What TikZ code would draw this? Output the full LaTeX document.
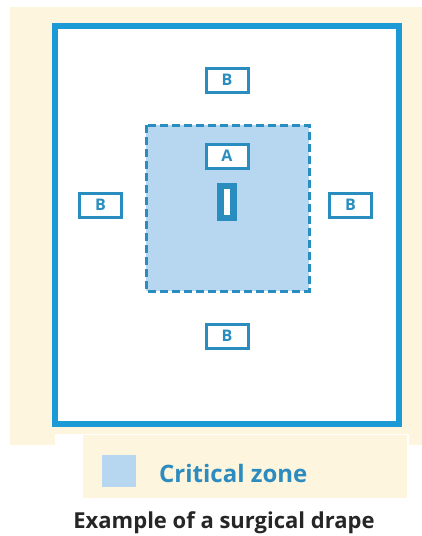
\documentclass[tikz,border=0pt]{standalone}
\usepackage{fontspec}
\setmainfont{Open Sans}
\definecolor{cream}{HTML}{FDF5DD}
\definecolor{frameblue}{HTML}{1C9AD6}
\definecolor{boxblue}{HTML}{2A8DC0}
\definecolor{zonefill}{HTML}{B7D7F0}
\definecolor{zonetext}{HTML}{2C8BBF}
\tikzset{
  lbox/.style={draw=boxblue, line width=3pt, fill=white, minimum width=42pt, minimum height=24pt, inner sep=0pt,
    font=\fontsize{16}{16}\selectfont\bfseries, text=boxblue},
}
\begin{document}
\begin{tikzpicture}[x=1pt,y=-1pt]
\useasboundingbox (0,0) rectangle (422,536);
% cream backgrounds
\fill[cream] (10,7) rectangle (422,434);
\fill[cream] (10,434) rectangle (55,445);
\fill[cream] (409,434) rectangle (422,445);
\fill[cream] (83,435) rectangle (407,498);
% outer frame
\draw[frameblue, line width=6pt, fill=white] (55,26) rectangle (399,424);
% critical zone
\draw[boxblue, fill=zonefill, line width=3pt, dash pattern=on 8pt off 4pt] (146,125) rectangle (309,291);
% labels
\node[lbox] (btop) at (227,80) {B};
\node[lbox] (a) at (227,156) {A};
\node[lbox] (bleft) at (100.5,205) {B};
\node[lbox] (bright) at (350.5,205) {B};
\node[lbox] (bbottom) at (227,336) {B};
% instrument
\node[fill=boxblue, minimum width=20pt, minimum height=38pt, inner sep=0pt] (inst) at (227,202) {};
\node[fill=white, minimum width=6pt, minimum height=26pt, inner sep=0pt] (instbar) at (inst.center) {};
% legend
\node[fill=zonefill, minimum width=34pt, minimum height=32pt, inner sep=0pt] (leg) at (119,471) {};
\node[anchor=base west, text=zonetext, font=\fontsize{24}{24}\selectfont\bfseries, inner sep=0pt] (legtext) at (159,482) {Critical zone};
\node[anchor=base, font=\fontsize{22}{22}\selectfont\bfseries, text=black!85, inner sep=0pt] (caption) at (224,528) {Example of a surgical drape};
\end{tikzpicture}
\end{document}
